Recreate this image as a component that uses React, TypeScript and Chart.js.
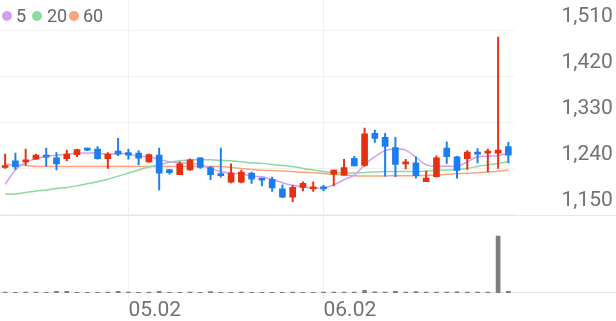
import React, { useEffect, useRef } from 'react';
import { Chart, registerables } from 'chart.js';

Chart.register(...registerables);

// ---- data ----
const dates = [
  '04.15', '04.16', '04.17', '04.18', '04.21', '04.22', '04.23', '04.24', '04.25', '04.28',
  '04.29', '04.30', '05.02', '05.07', '05.08', '05.09', '05.12', '05.13', '05.14', '05.15',
  '05.16', '05.19', '05.20', '05.21', '05.22', '05.23', '05.26', '05.27', '05.28', '05.29',
  '05.30', '06.02', '06.04', '06.05', '06.09', '06.10', '06.11', '06.12', '06.13', '06.16',
  '06.17', '06.18', '06.19', '06.20', '06.23', '06.24', '06.25', '06.26', '06.27', '06.30',
];
const shownDates = ['05.02', '06.02'];

const open = [
  1243, 1256, 1254, 1259, 1267, 1262, 1260, 1268, 1279, 1279,
  1260, 1275, 1272, 1271, 1254, 1267, 1239, 1229, 1238, 1262,
  1243, 1231, 1214, 1214, 1232, 1222, 1220, 1201, 1185, 1204,
  1201, 1204, 1230, 1228, 1261, 1247, 1310, 1302, 1282, 1250,
  1252, 1215, 1225, 1281, 1264, 1260, 1273, 1271, 1271, 1284,
];
const close = [
  1246, 1244, 1258, 1267, 1263, 1250, 1269, 1278, 1277, 1260,
  1269, 1269, 1267, 1261, 1268, 1232, 1233, 1250, 1258, 1243,
  1229, 1227, 1232, 1234, 1220, 1218, 1203, 1185, 1204, 1212,
  1205, 1201, 1238, 1243, 1246, 1309, 1300, 1284, 1249, 1253,
  1227, 1222, 1262, 1264, 1237, 1273, 1269, 1273, 1277, 1267,
];
const high = [
  1269, 1271, 1279, 1269, 1281, 1272, 1277, 1279, 1281, 1284,
  1272, 1300, 1279, 1276, 1269, 1281, 1239, 1254, 1260, 1262,
  1245, 1281, 1250, 1238, 1234, 1222, 1224, 1209, 1208, 1215,
  1215, 1208, 1238, 1259, 1265, 1320, 1316, 1310, 1302, 1259,
  1264, 1236, 1266, 1293, 1265, 1276, 1280, 1279, 1498, 1292,
];
const low = [
  1241, 1239, 1247, 1259, 1245, 1238, 1256, 1264, 1276, 1259,
  1241, 1266, 1259, 1248, 1253, 1199, 1230, 1229, 1237, 1241,
  1219, 1224, 1213, 1213, 1212, 1207, 1196, 1184, 1176, 1197,
  1196, 1197, 1207, 1228, 1246, 1245, 1292, 1226, 1225, 1240,
  1222, 1215, 1224, 1251, 1222, 1239, 1252, 1235, 1241, 1252,
];
const volume = [
  15, 12, 14, 14, 12, 30, 28, 12, 10, 12,
  14, 30, 14, 12, 14, 30, 12, 12, 14, 12,
  24, 12, 12, 14, 12, 12, 12, 12, 14, 12,
  12, 14, 18, 16, 18, 45, 20, 18, 30, 16,
  26, 14, 18, 16, 20, 18, 16, 14, 1000, 30,
];
const ma5 = [
  1210, 1238, 1253, 1260, 1265, 1267, 1269, 1271, 1271, 1271,
  1269, 1271, 1269, 1265, 1264, 1259, 1254, 1252, 1251, 1248,
  1241, 1235, 1232, 1230, 1226, 1225, 1220, 1213, 1208, 1205,
  1203, 1203, 1209, 1219, 1228, 1248, 1264, 1276, 1279, 1277,
  1263, 1248, 1245, 1246, 1245, 1254, 1264, 1265, 1266, 1271,
];
const ma20 = [
  1191, 1191, 1194, 1197, 1199, 1202, 1204, 1207, 1211, 1215,
  1220, 1226, 1232, 1238, 1244, 1248, 1253, 1256, 1258, 1258,
  1258, 1257, 1256, 1254, 1252, 1251, 1249, 1247, 1245, 1241,
  1238, 1235, 1233, 1232, 1232, 1233, 1234, 1235, 1235, 1235,
  1235, 1236, 1237, 1238, 1239, 1241, 1245, 1248, 1251, 1254,
];
const ma60 = [
  1249, 1248, 1247, 1245, 1245, 1245, 1245, 1245, 1245, 1245,
  1245, 1245, 1245, 1245, 1245, 1245, 1245, 1245, 1245, 1245,
  1245, 1245, 1243, 1241, 1239, 1237.5, 1237, 1236, 1235, 1233.5,
  1232.5, 1231, 1229.5, 1228, 1227, 1226.5, 1226.3, 1226.3, 1226.8, 1227,
  1227, 1227.5, 1228, 1229.5, 1230.5, 1231.5, 1232.5, 1234, 1235.5, 1238,
];
const maLabels = ['5', '20', '60'];
const priceTicks = [1150, 1240, 1330, 1420, 1510];

// ---- styles ----
const RED = '#e5310f';
const BLUE = '#1b7ef0';
const MA_COLORS = ['#d59ef0', '#8ed9a0', '#f9a47e'];
const GRID = '#f0f0f0';
const SEP = '#e6e6e6';
const TEXT = '#727272';
const FONT = 'Roboto, "Noto Sans", sans-serif';

export default function App() {
  const ref = useRef<HTMLCanvasElement>(null);

  useEffect(() => {
    const canvas = ref.current;
    if (!canvas) return;
    const colors = close.map((c, i) => (c >= open[i] ? RED : BLUE));
    const shownIdx = dates.map((d, i) => (shownDates.includes(d) ? i : -1)).filter((i) => i >= 0);
    const transparent = 'rgba(0,0,0,0)';

    const sepPlugin = {
      id: 'separators',
      beforeDatasetsDraw(chart: any) {
        const { ctx, chartArea } = chart;
        const y1 = Math.round(chart.scales.y.getPixelForValue(priceTicks[0])) + 0.5;
        const y2 = Math.round(chart.scales.yv.getPixelForValue(0)) - 0.5;
        ctx.save();
        ctx.strokeStyle = SEP;
        ctx.lineWidth = 1;
        ctx.beginPath();
        ctx.moveTo(chartArea.left, y1);
        ctx.lineTo(chart.width, y1);
        ctx.moveTo(chartArea.left, y2);
        ctx.lineTo(chart.width, y2);
        ctx.stroke();
        ctx.restore();
      },
    };

    const chart = new Chart(canvas, {
      type: 'bar',
      data: {
        labels: dates,
        datasets: [
          {
            type: 'bar',
            label: 'body',
            data: open.map((o, i) => [o, close[i]]),
            backgroundColor: colors,
            barThickness: 6,
            minBarLength: 2,
            grouped: false,
            yAxisID: 'y',
            order: 0,
          } as any,
          {
            type: 'bar',
            label: 'wick',
            data: low.map((l, i) => [l, high[i]]),
            backgroundColor: colors,
            barThickness: 1.3,
            grouped: false,
            yAxisID: 'y',
            order: 1,
          } as any,
          ...[ma5, ma20, ma60].map((d, k) => ({
            type: 'line',
            label: maLabels[k],
            data: d,
            borderColor: MA_COLORS[k],
            borderWidth: 1.5,
            pointRadius: 0,
            tension: 0.3,
            yAxisID: 'y',
            order: 2,
          })) as any,
          {
            type: 'bar',
            label: 'volume',
            data: volume,
            backgroundColor: '#7d7d7d',
            barThickness: 4,
            grouped: false,
            yAxisID: 'yv',
            order: 3,
          } as any,
        ],
      },
      options: {
        animation: false,
        responsive: false,
        devicePixelRatio: 1,
        layout: { padding: 0 },
        plugins: { legend: { display: false }, tooltip: { enabled: false } },
        scales: {
          x: {
            type: 'category',
            offset: true,
            grid: {
              offset: false,
              drawTicks: true,
              tickLength: 7,
              color: (c: any) => (shownIdx.includes(c.index) ? GRID : transparent),
              tickColor: (c: any) => (shownIdx.includes(c.index) ? GRID : transparent),
            },
            border: { display: false },
            ticks: {
              autoSkip: false,
              maxRotation: 0,
              minRotation: 0,
              align: 'start',
              padding: -2,
              color: TEXT,
              font: { family: FONT, size: 21 },
              callback: (_v: any, i: number) => (shownDates.includes(dates[i]) ? dates[i] : ''),
            },
            afterFit: (s: any) => {
              s.height = 28;
              s.paddingLeft = 0;
              s.paddingRight = 0;
            },
          },
          y: {
            position: 'right',
            min: 997.39,
            max: 1570.65,
            afterBuildTicks: (s: any) => {
              s.ticks = priceTicks.map((v) => ({ value: v }));
            },
            grid: { color: GRID, drawTicks: false },
            border: { display: false },
            ticks: {
              padding: 48,
              labelOffset: -14,
              color: TEXT,
              font: { family: FONT, size: 21 },
              callback: (v: any) => Number(v).toLocaleString('en-US'),
            },
            afterFit: (s: any) => {
              s.width = 102.5;
              s.paddingTop = 0;
              s.paddingBottom = 0;
            },
          },
          yv: {
            display: false,
            min: 0,
            max: 5140,
          },
        },
      } as any,
      plugins: [sepPlugin],
    });
    return () => chart.destroy();
  }, []);

  const legendCircle = (cx: number, color: string) => ({
    position: 'absolute' as const,
    left: cx - 5,
    top: 10.7,
    width: 10,
    height: 10,
    borderRadius: '50%',
    background: color,
  });
  const legendText = (x: number) => ({
    position: 'absolute' as const,
    left: x,
    top: 7,
    fontFamily: FONT,
    fontSize: 18,
    lineHeight: '18px',
    color: '#666',
    whiteSpace: 'nowrap' as const,
  });
  const circleX = [6.5, 37, 74];
  const textX = [16, 47, 83];

  return (
    <div style={{ position: 'absolute', left: 0, top: 0, width: 616, height: 321, background: '#fff' }}>
      <canvas ref={ref} width={616} height={321} style={{ display: 'block' }} />
      {maLabels.map((l, k) => (
        <React.Fragment key={l}>
          <div style={legendCircle(circleX[k], MA_COLORS[k])} />
          <div style={legendText(textX[k])}>{l}</div>
        </React.Fragment>
      ))}
    </div>
  );
}
